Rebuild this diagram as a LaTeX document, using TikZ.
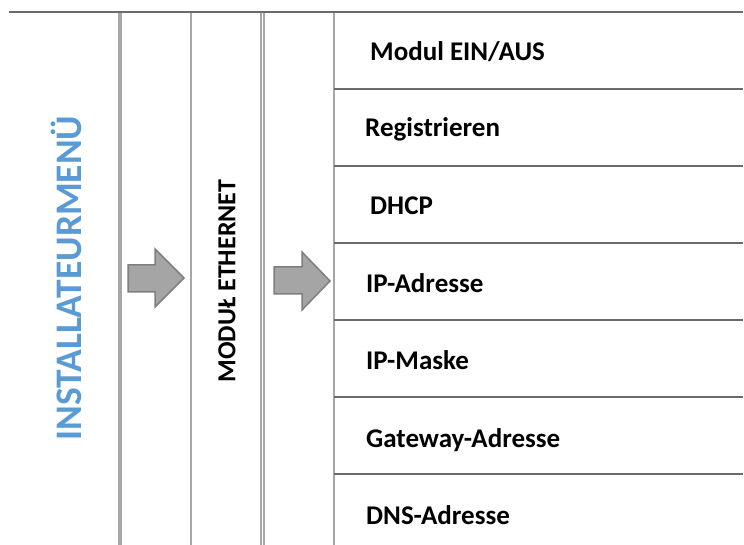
\documentclass[tikz,border=0pt]{standalone}
\usepackage{fontspec}
\setmainfont{Carlito}
\definecolor{hline}{HTML}{6A6A6A}
\definecolor{vline}{HTML}{A6A6A6}
\definecolor{titleblue}{HTML}{5B9BD5}
\definecolor{arrfill}{HTML}{A5A5A5}
\definecolor{arrdraw}{HTML}{7F7F7F}
\begin{document}
\begin{tikzpicture}[x=1pt,y=-1pt,
  hrule/.style={draw=hline,line width=2pt},
  vrule/.style={draw=vline,line width=1.8pt},
  blockarrow/.style={fill=arrfill,draw=arrdraw,line width=1.5pt,line join=miter},
  item/.style={anchor=base west,inner sep=0pt,font=\bfseries\fontsize{27}{31}\selectfont},
  title/.style={rotate=90,inner sep=0pt,text=titleblue,font=\bfseries\fontsize{37.5}{42}\selectfont},
  subtitle/.style={rotate=90,inner sep=0pt,font=\bfseries\fontsize{26}{30}\selectfont}]
\useasboundingbox (0,0) rectangle (744,545);
\fill[white] (0,0) rectangle (744,545);
% vertical rules
\draw[vrule,line width=3.6pt] (120,12) -- (120,545);
\draw[vrule] (191,12) -- (191,545);
\draw[vrule,line width=1.5pt] (261,12) -- (261,545);
\draw[vrule,line width=1.5pt] (264,12) -- (264,545);
\draw[vrule] (334,12) -- (334,545);
% horizontal rules
\draw[hrule] (9,12) -- (743,12);
\foreach \y in {89,166,243,320,397,474}
  \draw[hrule] (334,\y) -- (743,\y);
% titles
\node[title] (menu) at (66,278) {INSTALLATEURMENÜ};
\node[subtitle] (modul) at (227,281) {MODUŁ ETHERNET};
% arrows
\draw[blockarrow] (128,265) -- (155,265) -- (155,249) -- (184,278) -- (155,307) -- (155,292) -- (128,292) -- cycle;
\draw[blockarrow] (274,267) -- (302,267) -- (302,252) -- (330,281) -- (302,310) -- (302,294) -- (274,294) -- cycle;
% items
\node[item] (i1) at (370,61) {Modul EIN/AUS};
\node[item] (i2) at (365,137) {Registrieren};
\node[item] (i3) at (370,215) {DHCP};
\node[item] (i4) at (366,292) {IP-Adresse};
\node[item] (i5) at (366,369) {IP-Maske};
\node[item] (i6) at (366,447) {Gateway-Adresse};
\node[item] (i7) at (366,524) {DNS-Adresse};
\end{tikzpicture}
\end{document}
